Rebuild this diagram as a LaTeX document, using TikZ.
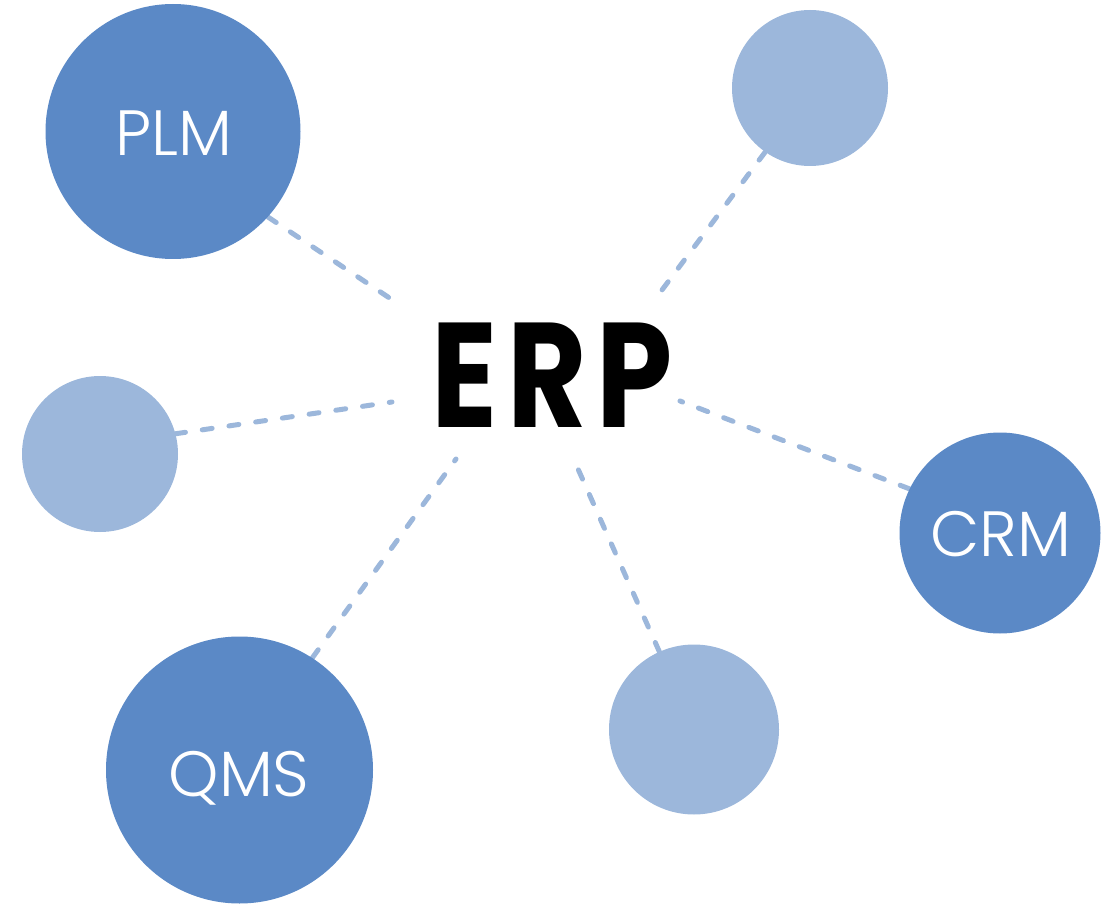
\documentclass[tikz,border=0pt]{standalone}
\usepackage{fontspec}
\usetikzlibrary{backgrounds}
\newfontfamily\lblfont{Poppins Light}
\newfontfamily\erpfont{Poppins Bold}[LetterSpace=6.5,FakeStretch=0.82]
\definecolor{darkblue}{HTML}{5B89C6}
\definecolor{lightblue}{HTML}{9CB7DB}
\tikzset{
  darkc/.style={circle, fill=darkblue, inner sep=0pt},
  lightc/.style={circle, fill=lightblue, inner sep=0pt},
  lbl/.style={text=white, font=\lblfont\fontsize{64}{64}\selectfont, anchor=base, inner sep=0pt},
  erpstyle/.style={text=black, font=\erpfont\fontsize{149}{149}\selectfont, anchor=base, inner sep=0pt},
  link/.style={draw=lightblue, line width=5pt, line cap=round, dash pattern=on 10pt off 17pt},
}
\begin{document}
\begin{tikzpicture}[x=1pt,y=-1pt]
\useasboundingbox (0,0) rectangle (1112,904);
% circles
\node[darkc, minimum size=255pt] (plm) at (173,131.5) {};
\node[lightc, minimum size=156pt] (tr) at (810,88) {};
\node[lightc, minimum size=156pt] (lt) at (100,454) {};
\node[darkc, minimum size=201pt] (crm) at (1000,533) {};
\node[darkc, minimum size=267pt] (qms) at (239.5,770) {};
\node[lightc, minimum size=170pt] (bt) at (694,729.5) {};
% labels
\node[lbl] (plmtxt) at (174,156) {PLM};
\node[lbl] (crmtxt) at (1001,556) {CRM};
\node[lbl] (qmstxt) at (239,796) {QMS};
\node[erpstyle] (erp) at (552.5,427) {ERP};
% ERP-side ends
\coordinate (e1) at (400,305);
\coordinate (e2) at (653,302);
\coordinate (e3) at (392,402);
\coordinate (e4) at (680,401);
\coordinate (e5) at (456,459);
\coordinate (e6) at (574,460);
\begin{pgfonlayer}{background}
\draw[link] (plm.-42.9) -- (e1);
\draw[link] (tr.-125.1) -- (e2);
\draw[link] (lt.15.4) -- (e3);
\draw[link] (crm.154.2) -- (e4);
\draw[link] (qms.57.4) -- (e5);
\draw[link] (bt.114.3) -- (e6);
\end{pgfonlayer}
\end{tikzpicture}
\end{document}
